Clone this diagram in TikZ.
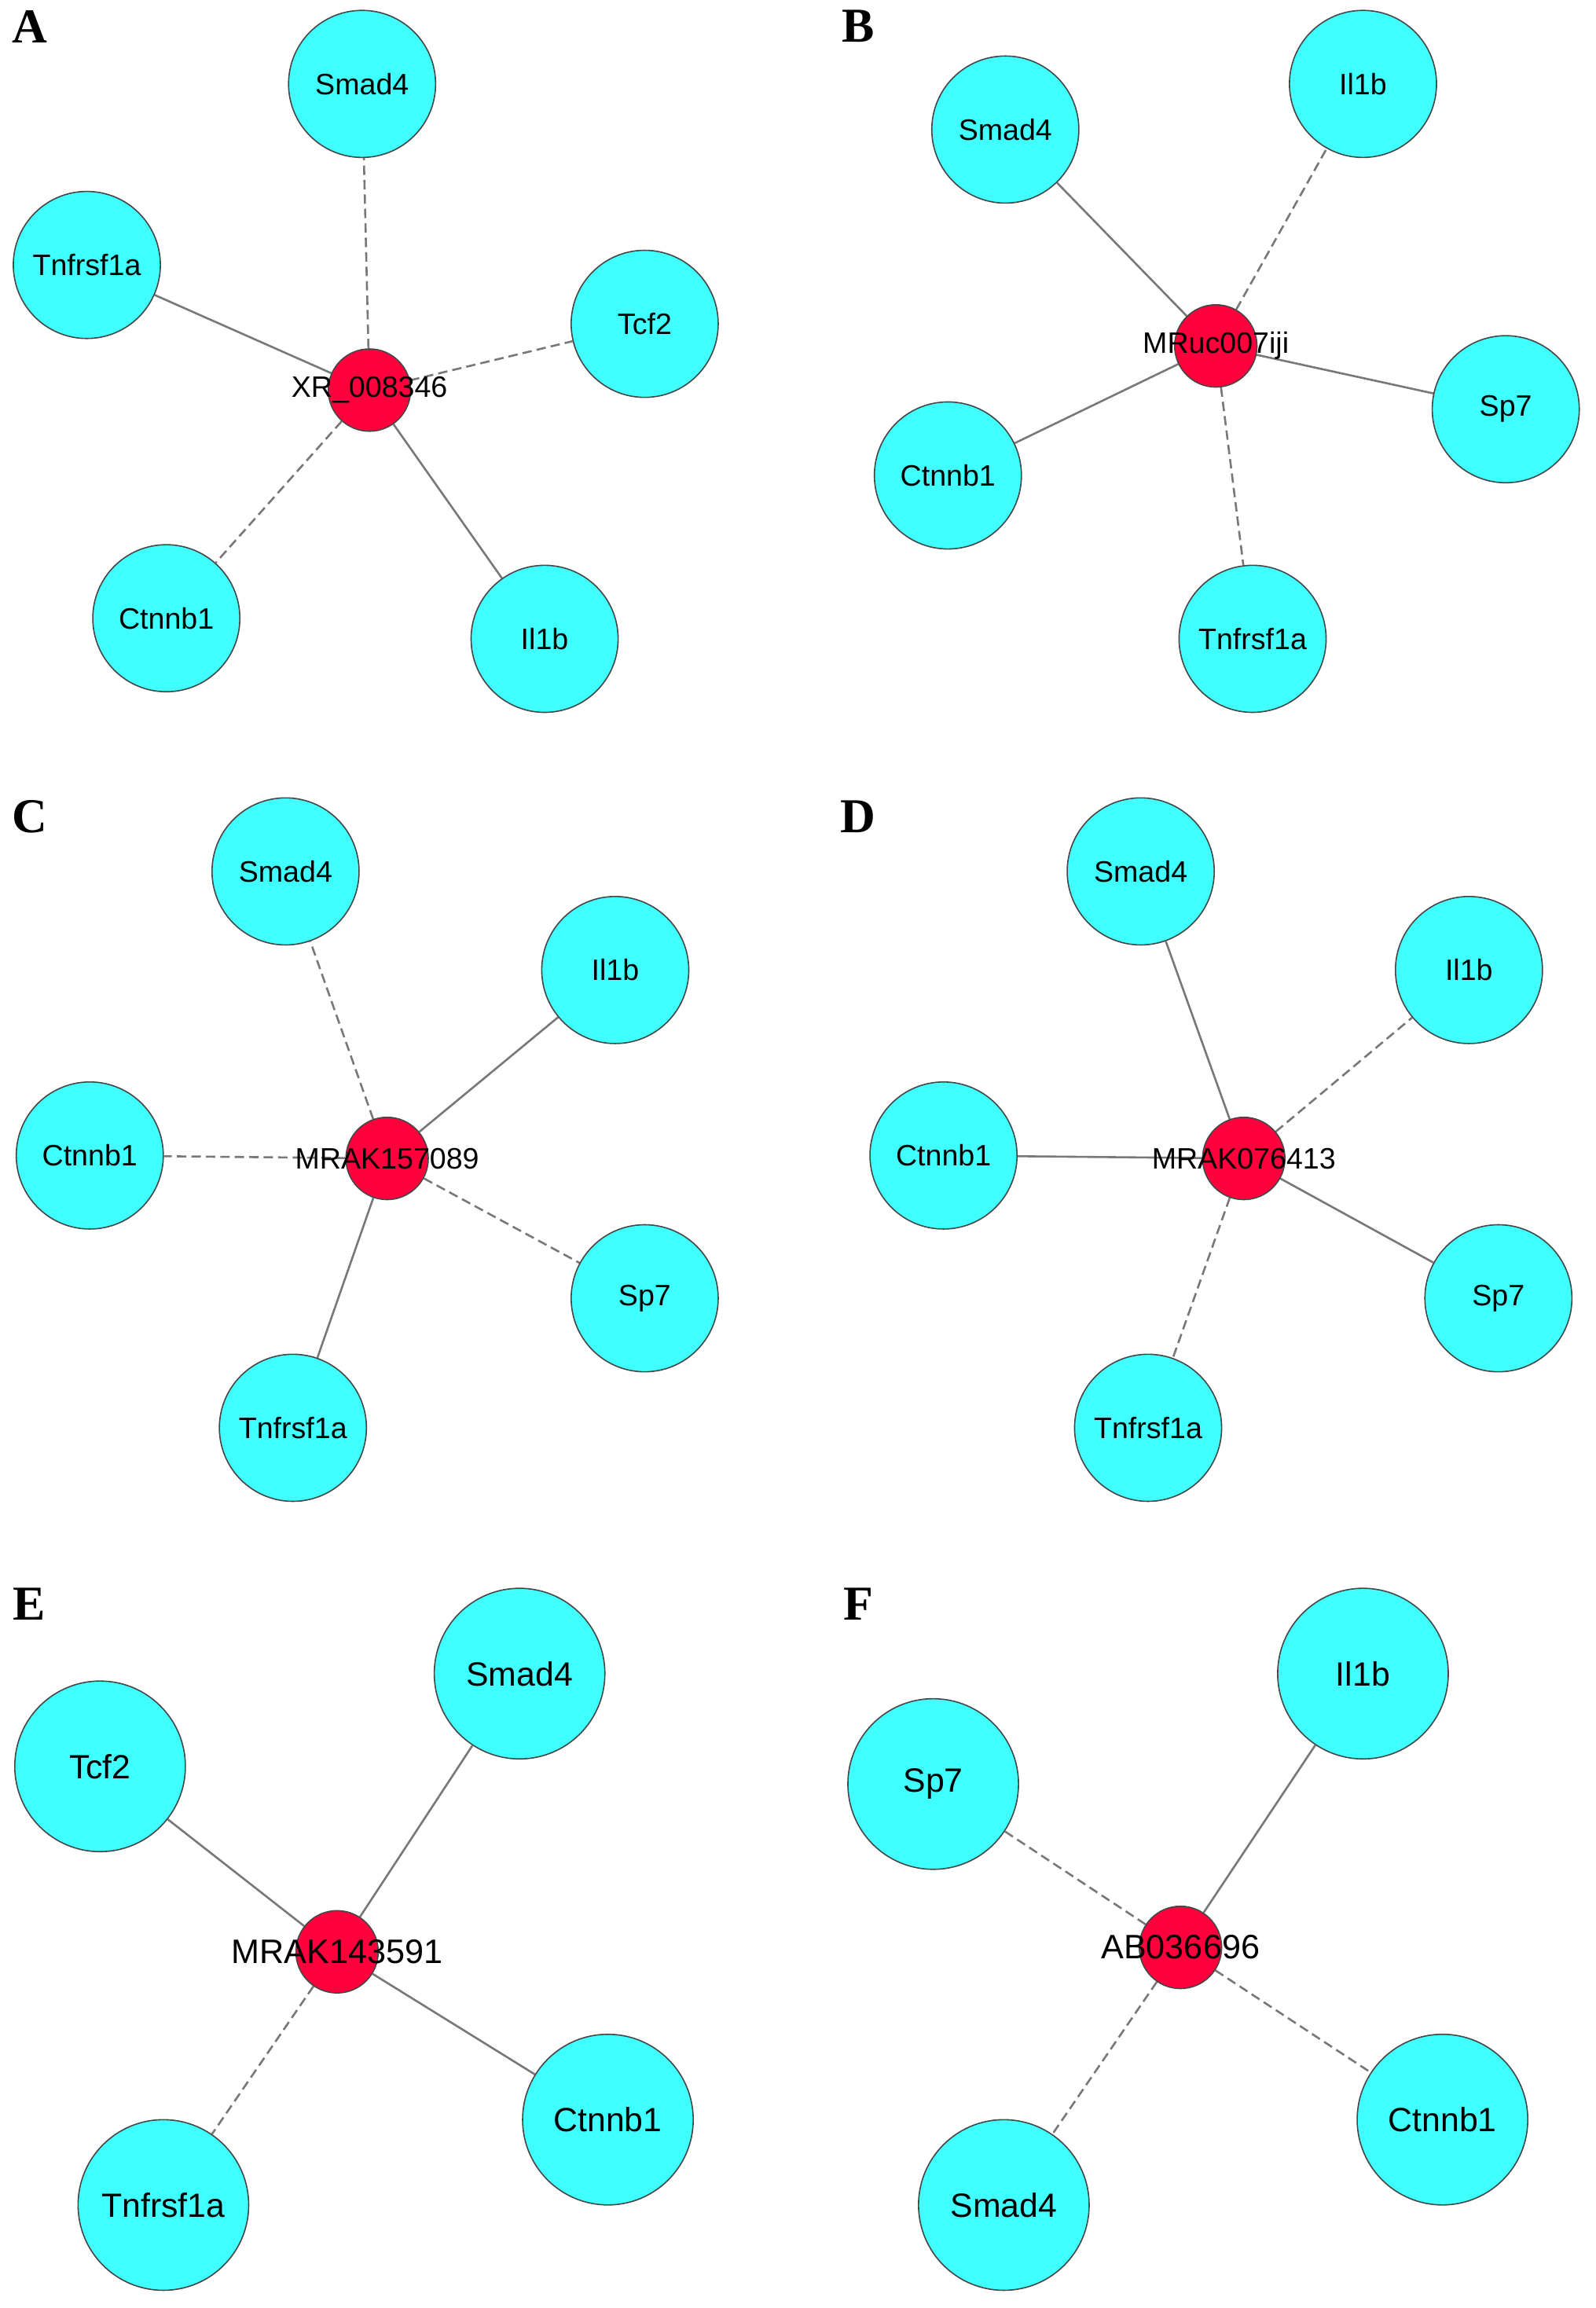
\documentclass[tikz,border=0pt]{standalone}
\usepackage{fontspec}
\setmainfont{Liberation Sans}
\newfontfamily\lettfont{Liberation Serif}
\usetikzlibrary{backgrounds}
\definecolor{genecyan}{RGB}{64,255,255}
\definecolor{hubred}{RGB}{255,0,60}
\definecolor{bordergray}{RGB}{70,70,70}
\definecolor{edgegray}{RGB}{120,120,120}
\tikzset{
  gene/.style={circle, draw=bordergray, line width=0.4pt, fill=genecyan, minimum size=46.8pt, inner sep=0pt, font=\fontsize{9.4}{11}\selectfont},
  biggene/.style={gene, minimum size=54.3pt, font=\fontsize{10.7}{12}\selectfont},
  hub/.style={circle, draw=bordergray, line width=0.4pt, fill=hubred, minimum size=26.2pt, inner sep=0pt},
  hublabel/.style={label={[font=\fontsize{9.4}{11}\selectfont, inner sep=0pt]center:#1}},
  bighublabel/.style={label={[font=\fontsize{10.8}{12}\selectfont, inner sep=0pt]center:#1}},
  solidedge/.style={draw=edgegray, line width=0.65pt},
  dashedge/.style={solidedge, dash pattern=on 3pt off 1.6pt},
  panel/.style={font=\lettfont\bfseries\fontsize{15.5}{18}\selectfont, inner sep=0pt}
}
\begin{document}
\begin{tikzpicture}[x=0.4684pt, y=-0.4684pt]
\useasboundingbox (0,0) rectangle (1084,1568);

% Panel A
\node[panel] (lA) at (20,18) {A};
\node[gene] (aSmad) at (246,57) {Smad4};
\node[gene] (aTnf) at (59,180) {Tnfrsf1a};
\node[gene] (aTcf) at (438,220) {Tcf2};
\node[gene] (aCtn) at (113,420) {Ctnnb1};
\node[gene] (aIl) at (370,434) {Il1b};
\node[hub, hublabel={XR\_008346}] (aHub) at (251,265) {};

% Panel B
\node[panel] (lB) at (583,18) {B};
\node[gene] (bSmad) at (683,88) {Smad4};
\node[gene] (bIl) at (926,57) {Il1b};
\node[gene] (bSp) at (1023,278) {Sp7};
\node[gene] (bCtn) at (644,323) {Ctnnb1};
\node[gene] (bTnf) at (851,434) {Tnfrsf1a};
\node[hub, hublabel={MRuc007iji}] (bHub) at (826,235) {};

% Panel C
\node[panel] (lC) at (20,555) {C};
\node[gene] (cSmad) at (194,592) {Smad4};
\node[gene] (cIl) at (418,659) {Il1b};
\node[gene] (cCtn) at (61,785) {Ctnnb1};
\node[gene] (cSp) at (438,882) {Sp7};
\node[gene] (cTnf) at (199,970) {Tnfrsf1a};
\node[hub, hublabel={MRAK157089}] (cHub) at (263,787) {};

% Panel D
\node[panel] (lD) at (583,555) {D};
\node[gene] (dSmad) at (775,592) {Smad4};
\node[gene] (dIl) at (998,659) {Il1b};
\node[gene] (dCtn) at (641,785) {Ctnnb1};
\node[gene] (dSp) at (1018,882) {Sp7};
\node[gene] (dTnf) at (780,970) {Tnfrsf1a};
\node[hub, hublabel={MRAK076413}] (dHub) at (845,787) {};

% Panel E
\node[panel] (lE) at (20,1090) {E};
\node[biggene] (eTcf) at (68,1200) {Tcf2};
\node[biggene] (eSmad) at (353,1137) {Smad4};
\node[biggene] (eTnf) at (111,1498) {Tnfrsf1a};
\node[biggene] (eCtn) at (413,1440) {Ctnnb1};
\node[hub, bighublabel={MRAK143591}] (eHub) at (229,1326) {};

% Panel F
\node[panel] (lF) at (583,1090) {F};
\node[biggene] (fIl) at (926,1137) {Il1b};
\node[biggene] (fSp) at (634,1212) {Sp7};
\node[biggene] (fCtn) at (980,1440) {Ctnnb1};
\node[biggene] (fSmad) at (682,1498) {Smad4};
\node[hub, bighublabel={AB036696}] (fHub) at (802,1323) {};

\begin{scope}[on background layer]
  \fill[white] (0,0) rectangle (1084,1568);
  \draw[dashedge] (aHub) -- (aSmad);
  \draw[dashedge] (aHub) -- (aTcf);
  \draw[dashedge] (aHub) -- (aCtn);
  \draw[solidedge] (aHub) -- (aTnf);
  \draw[solidedge] (aHub) -- (aIl);

  \draw[solidedge] (bHub) -- (bSmad);
  \draw[dashedge] (bHub) -- (bIl);
  \draw[solidedge] (bHub) -- (bSp);
  \draw[solidedge] (bHub) -- (bCtn);
  \draw[dashedge] (bHub) -- (bTnf);

  \draw[dashedge] (cHub) -- (cSmad);
  \draw[solidedge] (cHub) -- (cIl);
  \draw[dashedge] (cHub) -- (cCtn);
  \draw[dashedge] (cHub) -- (cSp);
  \draw[solidedge] (cHub) -- (cTnf);

  \draw[solidedge] (dHub) -- (dSmad);
  \draw[dashedge] (dHub) -- (dIl);
  \draw[solidedge] (dHub) -- (dCtn);
  \draw[solidedge] (dHub) -- (dSp);
  \draw[dashedge] (dHub) -- (dTnf);

  \draw[solidedge] (eHub) -- (eTcf);
  \draw[solidedge] (eHub) -- (eSmad);
  \draw[dashedge] (eHub) -- (eTnf);
  \draw[solidedge] (eHub) -- (eCtn);

  \draw[solidedge] (fHub) -- (fIl);
  \draw[dashedge] (fHub) -- (fSp);
  \draw[dashedge] (fHub) -- (fCtn);
  \draw[dashedge] (fHub) -- (fSmad);
\end{scope}
\end{tikzpicture}
\end{document}
